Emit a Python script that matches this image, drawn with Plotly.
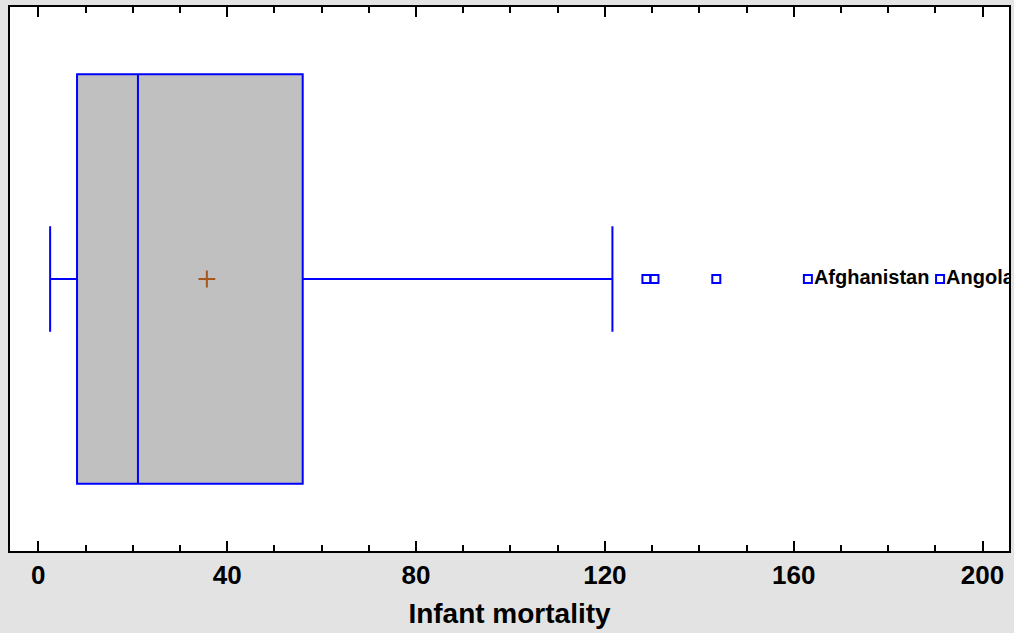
import plotly.graph_objects as go

# Box plot statistics (Infant mortality)
q1 = [8.2]
median = [21.1]
q3 = [56.0]
lower_whisker = [2.5]
upper_whisker = [121.6]
mean_value = [35.7]

# Outside points
outlier_values = [128.8, 130.5, 143.6]
labeled_values = [163.0, 191.0]
labeled_names = ["Afghanistan", "Angola"]

tick_values = [0, 40, 80, 120, 160, 200]
tick_labels = ["0", "40", "80", "120", "160", "200"]

BLUE = "#0000FF"
FONT = "Liberation Sans, Arial, sans-serif"

fig = go.Figure()

fig.add_trace(go.Box(
    orientation="h",
    y=[0],
    q1=q1, median=median, q3=q3,
    lowerfence=lower_whisker, upperfence=upper_whisker,
    boxpoints=False,
    fillcolor="#C0C0C0",
    line=dict(color=BLUE, width=2),
    width=1.0,
    whiskerwidth=0.257,
    showlegend=False,
    hoverinfo="skip",
))

fig.add_trace(go.Scatter(
    x=mean_value, y=[0], mode="markers",
    marker=dict(symbol="cross-thin", size=12,
                line=dict(color="#A8561C", width=2)),
    showlegend=False, hoverinfo="skip",
))

fig.add_trace(go.Scatter(
    x=outlier_values, y=[0] * len(outlier_values), mode="markers",
    marker=dict(symbol="square-open", size=8, color=BLUE,
                line=dict(color=BLUE, width=2)),
    showlegend=False, hoverinfo="skip",
))

fig.add_trace(go.Scatter(
    x=labeled_values, y=[0] * len(labeled_values), mode="markers+text",
    text=labeled_names, textposition="middle right",
    textfont=dict(family=FONT, size=20, color="black", weight="bold"),
    marker=dict(symbol="square-open", size=8, color=BLUE,
                line=dict(color=BLUE, width=2)),
    cliponaxis=True,
    showlegend=False, hoverinfo="skip",
))

fig.update_layout(
    width=1014, height=633,
    margin=dict(l=10, r=3, t=7, b=82),
    paper_bgcolor="#E3E3E3",
    plot_bgcolor="white",
    font=dict(family=FONT, color="black"),
    xaxis=dict(
        range=[-6.0, 205.6],
        tickvals=tick_values, ticktext=tick_labels,
        ticks="inside", ticklen=10, tickwidth=2, tickcolor="black",
        minor=dict(dtick=10, ticks="inside", ticklen=6, tickwidth=2, tickcolor="black"),
        showgrid=False, zeroline=False,
        showline=True, linecolor="black", linewidth=2, mirror="ticks",
        tickfont=dict(family=FONT, size=26, color="black", weight="bold"),
        ticklabelstandoff=0,
        title=dict(text="<b>Infant mortality</b>", font=dict(family=FONT, size=28, color="black"),
                   standoff=14),
    ),
    yaxis=dict(
        range=[-0.664, 0.664],
        showticklabels=False, ticks="",
        showgrid=False, zeroline=False,
        showline=True, linecolor="black", linewidth=2, mirror=True,
    ),
)

fig.write_html(
    "out.html",
    config={"displayModeBar": False},
    post_script="document.body.style.margin='0';document.body.style.background='#E3E3E3';",
)
